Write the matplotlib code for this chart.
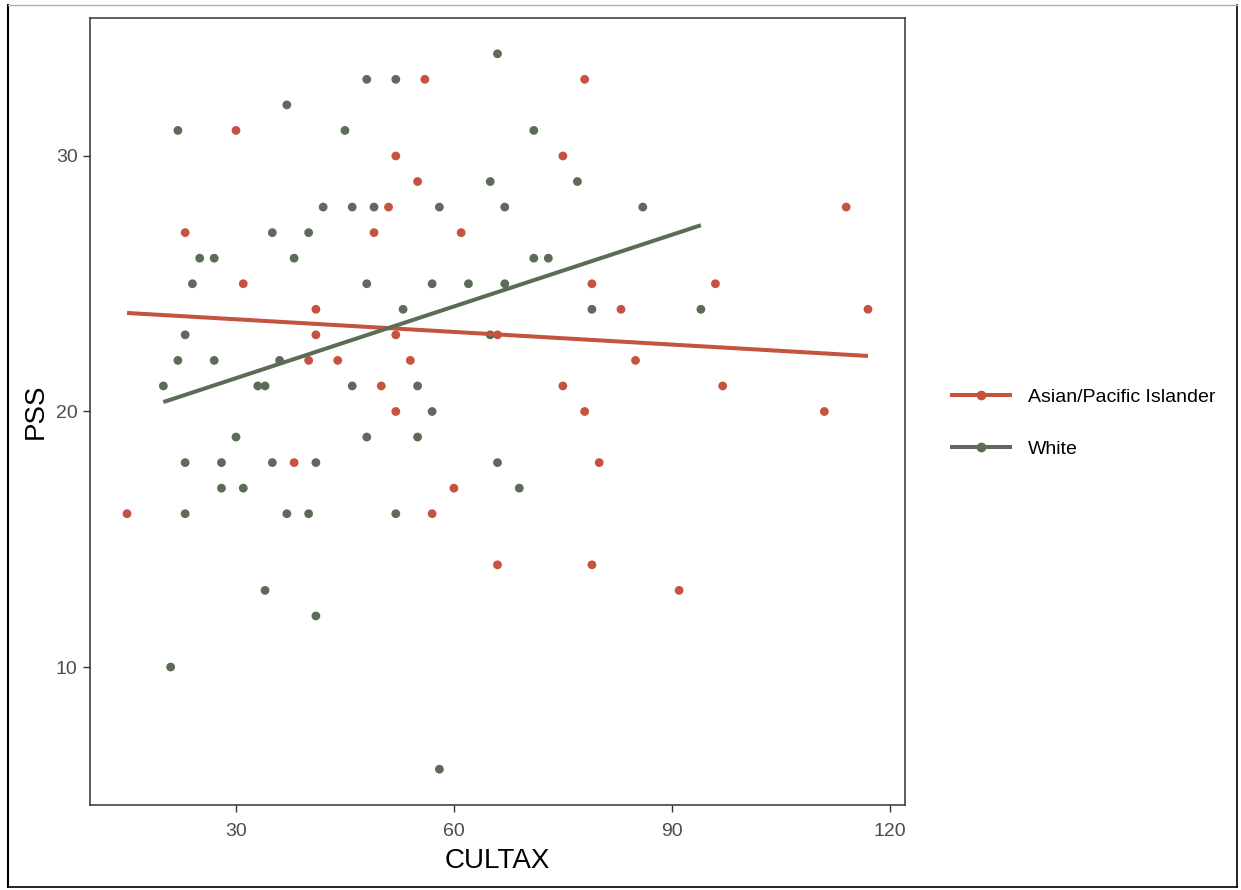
import numpy as np
import matplotlib
matplotlib.use("Agg")
from matplotlib import pyplot as plt
from matplotlib.lines import Line2D

# data
asian_cultax = [56, 78, 30, 52, 75, 55, 51, 114, 23, 49, 61, 31, 79, 96, 41, 83, 117, 41, 52,
                66, 40, 44, 54, 85, 50, 75, 97, 52, 78, 111, 38, 80, 60, 15, 57, 66, 79, 91]
asian_pss = [33, 33, 31, 30, 30, 29, 28, 28, 27, 27, 27, 25, 25, 25, 24, 24, 24, 23, 23,
             23, 22, 22, 22, 22, 21, 21, 21, 20, 20, 20, 18, 18, 17, 16, 16, 14, 14, 13]

white_cultax = [48, 37, 22, 45, 42, 46, 49, 58, 67, 86, 35, 40, 25, 27, 38, 71, 73, 24, 48, 57,
                62, 67, 66, 52, 71, 65, 77, 53, 79, 94, 23, 65, 22, 27, 36, 20, 33, 34, 46, 55,
                57, 30, 48, 55, 23, 28, 35, 41, 66, 28, 31, 69, 23, 37, 40, 52, 34, 41, 21, 58]
white_pss = [33, 32, 31, 31, 28, 28, 28, 28, 28, 28, 27, 27, 26, 26, 26, 26, 26, 25, 25, 25,
             25, 25, 34, 33, 31, 29, 29, 24, 24, 24, 23, 23, 22, 22, 22, 21, 21, 21, 21, 21,
             20, 19, 19, 19, 18, 18, 18, 18, 18, 17, 17, 17, 16, 16, 16, 16, 13, 12, 10, 6]

groups = ["Asian/Pacific Islander", "White"]
colors = ["#C4533F", "#5D6B59"]
x_ticks = [30, 60, 90, 120]
y_ticks = [10, 20, 30]

plt.rcParams['font.family'] = ['Liberation Sans', 'DejaVu Sans']

fig = plt.figure(figsize=(12.41, 8.90), dpi=100)
ax = fig.add_axes([90 / 1241, 1 - 805 / 890, 815 / 1241, 787 / 890])

series = [(asian_cultax, asian_pss), (white_cultax, white_pss)]
for (xs, ys), color in zip(series, colors):
    xs = np.array(xs, dtype=float)
    ys = np.array(ys, dtype=float)
    ax.scatter(xs, ys, s=40, color=color, edgecolors='none', zorder=3)
    # linear fit like geom_smooth(method = "lm", se = FALSE)
    slope, intercept = np.polyfit(xs, ys, 1)
    xfit = np.array([xs.min(), xs.max()])
    ax.plot(xfit, intercept + slope * xfit, color=color, linewidth=2.9, zorder=4,
            solid_capstyle='butt')

all_x = asian_cultax + white_cultax
all_y = asian_pss + white_pss
xr = max(all_x) - min(all_x)
yr = max(all_y) - min(all_y)
ax.set_xlim(min(all_x) - 0.05 * xr, max(all_x) + 0.05 * xr)
ax.set_ylim(min(all_y) - 0.05 * yr, max(all_y) + 0.05 * yr)

ax.set_xticks(x_ticks)
ax.set_yticks(y_ticks)
ax.tick_params(direction='out', length=5, width=1, color='#333333', labelcolor='#4D4D4D',
               labelsize=14, pad=4)
ax.tick_params(axis='x', pad=8)
for sp in ax.spines.values():
    sp.set_color('#333333')
    sp.set_linewidth(1.1)

ax.set_xlabel("CULTAX", fontsize=20, color='black', labelpad=6)
ax.set_ylabel("PSS", fontsize=20, color='black', labelpad=5)

handles = [Line2D([0], [0], color=c, linewidth=2.9, marker='o', markersize=6) for c in colors]
fig.legend(handles, groups, loc='center left', bbox_to_anchor=(934 / 1241, 1 - 423 / 890),
           frameon=False, fontsize=14, handlelength=3.0, handletextpad=0.93,
           labelspacing=1.8)

# outer frame of the screenshot
fig.add_artist(Line2D([8 / 1241, 8 / 1241], [1 - 5 / 890, 1 - 887 / 890], color='black',
                      linewidth=1.5, transform=fig.transFigure))
fig.add_artist(Line2D([8 / 1241, 1237 / 1241], [1 - 887 / 890, 1 - 887 / 890], color='black',
                      linewidth=1.2, transform=fig.transFigure))
fig.add_artist(Line2D([1237 / 1241, 1237 / 1241], [1 - 5 / 890, 1 - 887 / 890], color='black',
                      linewidth=1.2, transform=fig.transFigure))
fig.add_artist(Line2D([8 / 1241, 1237 / 1241], [1 - 5 / 890, 1 - 5 / 890], color='#B0B0B0',
                      linewidth=1.0, transform=fig.transFigure))

fig.savefig("out.png", dpi=100)
